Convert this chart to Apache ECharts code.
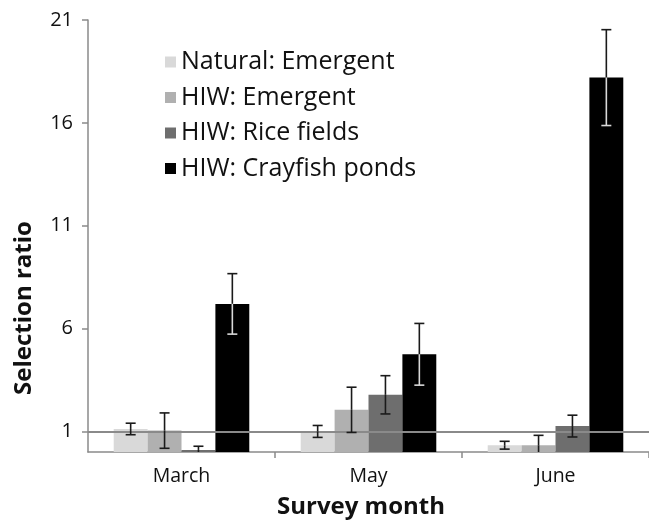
<!DOCTYPE html>
<html>
<head>
<meta charset="utf-8">
<script src="https://cdn.jsdelivr.net/npm/echarts@6/dist/echarts.min.js"></script>
<style>
html,body{margin:0;padding:0;background:#fff;}
#chart{width:649px;height:520px;}
</style>
</head>
<body>
<div id="chart"></div>
<script>
const categories = ['March', 'May', 'June'];
const seriesNames = ['Natural: Emergent', 'HIW: Emergent', 'HIW: Rice fields', 'HIW: Crayfish ponds'];
const naturalEmergent = [1.12, 1.0, 0.33];
const naturalEmergentErr = [0.28, 0.29, 0.19];
const hiwEmergent = [1.04, 2.05, 0.33];
const hiwEmergentErr = [0.86, 1.1, 0.48];
const hiwRice = [0.1, 2.78, 1.26];
const hiwRiceErr = [0.18, 0.93, 0.53];
const hiwCrayfish = [7.2, 4.75, 18.2];
const hiwCrayfishErr = [1.47, 1.5, 2.33];
const yTickValues = [1, 6, 11, 16, 21];
const refLineValue = 1;

const seriesValues = [naturalEmergent, hiwEmergent, hiwRice, hiwCrayfish];
const seriesErrs = [naturalEmergentErr, hiwEmergentErr, hiwRiceErr, hiwCrayfishErr];
const colors = ['#d9d9d9', '#b0b0b0', '#6e6e6e', '#000000'];
const gapRatio = 0.275;
const FONT = '"Open Sans"';

const errData = [];
seriesValues.forEach((vals, si) => {
  vals.forEach((v, ci) => errData.push([ci, v, seriesErrs[si][ci], si]));
});

const chart = echarts.init(document.getElementById('chart'), null, {renderer: 'canvas'});

const barSeries = seriesNames.map((name, si) => ({
  name: name,
  type: 'bar',
  data: seriesValues[si],
  itemStyle: {color: colors[si]},
  barGap: 0,
  barCategoryGap: (gapRatio * 100) + '%',
  z: 2
}));

barSeries[3].markLine = {
  silent: true,
  symbol: 'none',
  label: {show: false},
  lineStyle: {color: '#8a8a8a', width: 2, type: 'solid'},
  data: [{yAxis: refLineValue}],
  animation: false
};

const errSeries = {
  type: 'custom',
  name: 'err',
  z: 5,
  data: errData,
  encode: {x: 0, y: 1},
  renderItem: function (params, api) {
    const ci = api.value(0), v = api.value(1), e = api.value(2), si = api.value(3);
    const band = api.size([1, 0])[0];
    const gw = band * (1 - gapRatio);
    const bw = gw / 4;
    const c = api.coord([ci, v]);
    const x = c[0] - gw / 2 + bw * (si + 0.5);
    const yMid = c[1];
    const yTop = api.coord([ci, v + e])[1];
    const lowV = v - e;
    const yLow = api.coord([ci, Math.max(lowV, 0)])[1];
    const dark = '#1a1a1a';
    const lowColor = si === 3 ? '#d8d8d8' : dark;
    const cap = 5;
    const lw = 1.6;
    const children = [
      {type: 'line', shape: {x1: x, y1: yTop, x2: x, y2: yMid}, style: {stroke: dark, lineWidth: lw}},
      {type: 'line', shape: {x1: x - cap, y1: yTop, x2: x + cap, y2: yTop}, style: {stroke: dark, lineWidth: lw}},
      {type: 'line', shape: {x1: x, y1: yMid, x2: x, y2: yLow}, style: {stroke: lowColor, lineWidth: lw}}
    ];
    if (lowV >= 0) {
      children.push({type: 'line', shape: {x1: x - cap, y1: yLow, x2: x + cap, y2: yLow}, style: {stroke: lowColor, lineWidth: lw}});
    }
    return {type: 'group', children: children};
  }
};

chart.setOption({
  animation: false,
  backgroundColor: '#ffffff',
  grid: {left: 88, top: 20, width: 562, bottom: 68, containLabel: false},
  legend: {
    data: seriesNames,
    orient: 'vertical',
    left: 160,
    top: 44,
    icon: 'rect',
    itemWidth: 11,
    itemHeight: 11,
    itemGap: 9.5,
    textStyle: {fontFamily: FONT, fontSize: 25, color: '#111', lineHeight: 26, padding: [0, 0, 0, 0]}
  },
  xAxis: {
    type: 'category',
    data: categories,
    axisLine: {lineStyle: {color: '#8a8a8a', width: 1.5}},
    axisTick: {show: true, length: 6, interval: function (idx) { return idx !== 0; }, lineStyle: {color: '#8a8a8a', width: 1.5}},
    axisLabel: {fontFamily: FONT, fontSize: 19.5, color: '#111', margin: 14}
  },
  yAxis: {
    type: 'value',
    min: 0,
    max: 21,
    splitLine: {show: false},
    axisLine: {show: true, lineStyle: {color: '#8a8a8a', width: 1.5}},
    axisTick: {show: true, length: 6, customValues: yTickValues, lineStyle: {color: '#8a8a8a', width: 1.5}},
    axisLabel: {fontFamily: FONT, fontSize: 20, color: '#111', margin: 15, customValues: yTickValues}
  },
  graphic: [
    {
      type: 'text',
      x: 24, y: 308,
      rotation: Math.PI / 2,
      style: {text: 'Selection ratio', fontFamily: FONT, fontSize: 24, fontWeight: 'bold', fill: '#111', align: 'center', verticalAlign: 'middle'}
    },
    {
      type: 'text',
      x: 361, y: 507,
      style: {text: 'Survey month', fontFamily: FONT, fontSize: 24, fontWeight: 'bold', fill: '#111', align: 'center', verticalAlign: 'middle'}
    }
  ],
  series: barSeries.concat([errSeries])
});
</script>
</body>
</html>
